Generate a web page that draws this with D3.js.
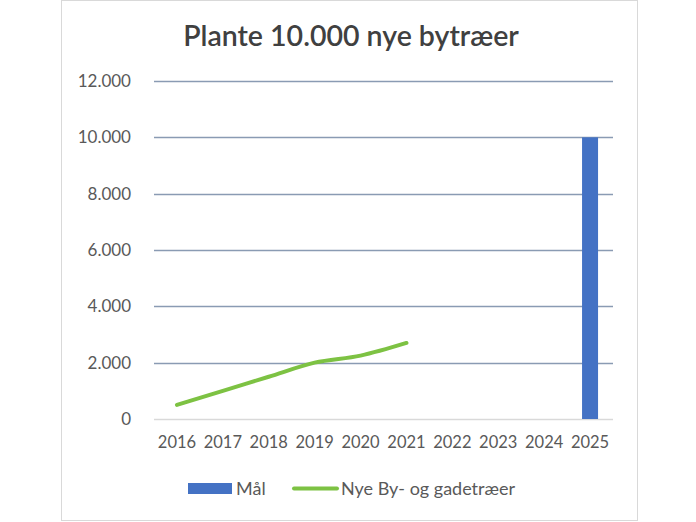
<!DOCTYPE html>
<html><head><meta charset="utf-8">
<script src="https://cdn.jsdelivr.net/npm/d3@7"></script>
<style>body{margin:0;background:#fff}svg{display:block}</style>
</head><body>
<svg id="c" width="696" height="522"></svg>
<script>
const title = "Plante 10.000 nye bytræer";
const years = ["2016","2017","2018","2019","2020","2021","2022","2023","2024","2025"];
const goalValues = [null,null,null,null,null,null,null,null,null,10000];
const treeValues = [500,1000,1500,2000,2250,2700,null,null,null,null];
const yTicks = [0,2000,4000,6000,8000,10000,12000];
const seriesNames = ["Mål","Nye By- og gadetræer"];

const svg = d3.select("#c");
const font = "Lato, 'Open Sans', sans-serif";
svg.append("rect").attr("x",61.5).attr("y",0.5).attr("width",576).attr("height",520)
  .attr("fill","#fff").attr("stroke","#d9d9d9");

const x = d3.scaleBand().domain(years).range([154,613]);
const y = d3.scaleLinear().domain([0,12000]).range([419,81]);
const fmt = v => d3.format(",")(v).replace(/,/g,".");

svg.append("text").attr("x",351).attr("y",46).attr("text-anchor","middle")
  .attr("font-family",font).attr("font-size",28.5).attr("font-weight",600)
  .attr("fill","#404040").text(title);

// grid
svg.append("g").selectAll("line").data(yTicks).join("line")
  .attr("x1",154).attr("x2",613)
  .attr("y1",d=>Math.round(y(d))+0.5).attr("y2",d=>Math.round(y(d))+0.5)
  .attr("stroke",d=>d===0?"#d9d9d9":"#8a9bb3").attr("stroke-width",1.5);

// y labels
const yAxis = d3.axisLeft(y).tickValues(yTicks).tickFormat(fmt).tickSize(0).tickPadding(0);
const gy = svg.append("g").attr("transform","translate(131,0)").call(yAxis);
gy.select(".domain").remove();
gy.selectAll("text").attr("font-family",font).attr("font-size",17).attr("fill","#595959");

// x labels
const xAxis = d3.axisBottom(x).tickSize(0).tickPadding(0);
const gx = svg.append("g").attr("transform","translate(0,436)").call(xAxis);
gx.select(".domain").remove();
gx.selectAll("text").attr("font-family",font).attr("font-size",16.5).attr("fill","#595959");

// bars
const barW = 16;
svg.append("g").selectAll("rect").data(years.map((d,i)=>({d,v:goalValues[i]})).filter(e=>e.v!=null))
  .join("rect").attr("x",e=>x(e.d)+x.bandwidth()/2-barW/2).attr("width",barW)
  .attr("y",e=>y(e.v)).attr("height",e=>y(0)-y(e.v)).attr("fill","#4472c4");

// line
const pts = years.map((d,i)=>({d,v:treeValues[i]})).filter(e=>e.v!=null);
svg.append("path").datum(pts)
  .attr("d",d3.line().x(e=>x(e.d)+x.bandwidth()/2).y(e=>y(e.v)).curve(d3.curveMonotoneX))
  .attr("fill","none").attr("stroke","#7dc243").attr("stroke-width",4).attr("stroke-linecap","round");

// legend
const lg = svg.append("g");
lg.append("rect").attr("x",188).attr("y",483).attr("width",44).attr("height",11).attr("fill","#4472c4");
lg.append("text").attr("x",236).attr("y",495).attr("font-family",font).attr("font-size",18).attr("fill","#595959").text(seriesNames[0]);
lg.append("line").attr("x1",294).attr("x2",337).attr("y1",488.5).attr("y2",488.5)
  .attr("stroke","#7dc243").attr("stroke-width",4).attr("stroke-linecap","round");
lg.append("text").attr("x",341).attr("y",495).attr("font-family",font).attr("font-size",18).attr("fill","#595959").text(seriesNames[1]);
</script>
</body></html>
